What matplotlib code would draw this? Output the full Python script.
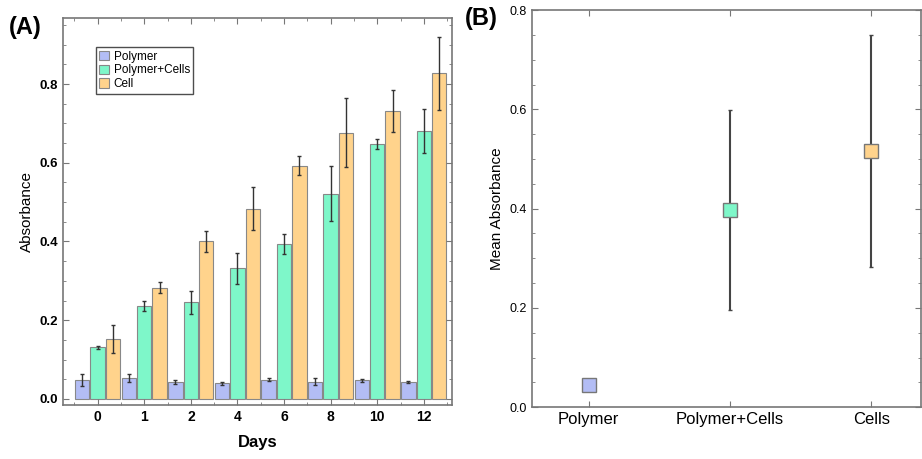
import matplotlib.pyplot as plt
import numpy as np
from matplotlib.ticker import MultipleLocator

plt.rcParams['font.family'] = ['Liberation Sans', 'DejaVu Sans']

days = ['0', '1', '2', '4', '6', '8', '10', '12']
series = ['Polymer', 'Polymer+Cells', 'Cell']
polymer = [0.048, 0.053, 0.042, 0.040, 0.049, 0.044, 0.047, 0.043]
polymer_err = [0.015, 0.010, 0.005, 0.004, 0.003, 0.008, 0.003, 0.002]
poly_cells = [0.131, 0.236, 0.245, 0.332, 0.394, 0.521, 0.648, 0.681]
poly_cells_err = [0.004, 0.013, 0.030, 0.040, 0.025, 0.070, 0.012, 0.056]
cell = [0.152, 0.283, 0.400, 0.483, 0.593, 0.676, 0.732, 0.827]
cell_err = [0.036, 0.015, 0.027, 0.055, 0.024, 0.088, 0.053, 0.092]

groups = ['Polymer', 'Polymer+Cells', 'Cells']
mean_abs = [0.045, 0.397, 0.516]
mean_err = [0.003, 0.202, 0.233]

colors = ['#b3bdf5', '#7ef7c9', '#ffd38c']
frame = '#777777'

fig = plt.figure(figsize=(9.22, 4.59), dpi=100)
axA = fig.add_axes([0.068, 0.118, 0.422, 0.843])
axB = fig.add_axes([0.577, 0.113, 0.4215, 0.865])

x = np.arange(len(days))
w = 0.31
for i, (vals, errs) in enumerate([(polymer, polymer_err), (poly_cells, poly_cells_err), (cell, cell_err)]):
    axA.bar(x + (i - 1) * 0.33, vals, w, yerr=errs, color=colors[i], edgecolor='#888888',
            linewidth=0.8, label=series[i],
            error_kw=dict(ecolor='#333333', elinewidth=1, capsize=1.5, capthick=1))

axA.set_xlim(-0.75, 7.6)
axA.set_ylim(-0.015, 0.968)
axA.set_xticks(x)
axA.set_xticklabels(days, fontsize=10, fontweight='bold')
axA.set_xticks(np.arange(-0.5, 7.6, 1), minor=True)
axA.yaxis.set_minor_locator(MultipleLocator(0.05))
axA.set_yticks([0.0, 0.2, 0.4, 0.6, 0.8])
axA.set_yticklabels(['0.0', '0.2', '0.4', '0.6', '0.8'], fontsize=9.5, fontweight='bold')
axA.set_xlabel('Days', fontsize=12, fontweight='bold', labelpad=8)
axA.set_ylabel('Absorbance', fontsize=11)
axA.legend(loc='upper left', bbox_to_anchor=(0.07, 0.94), fontsize=8.5, frameon=True,
           fancybox=False, edgecolor='#222222', handlelength=0.8, handleheight=0.8,
           handletextpad=0.4, borderpad=0.3, labelspacing=0.15)

xb = np.arange(len(groups))
for i in range(len(groups)):
    axB.errorbar(xb[i], mean_abs[i], yerr=mean_err[i], fmt='s', markersize=10,
                 markerfacecolor=colors[i], markeredgecolor='#777777', markeredgewidth=1,
                 ecolor='#444444', elinewidth=1.5, capsize=1.5, capthick=1.5)
axB.set_xlim(-0.4, 2.35)
axB.set_ylim(0, 0.8)
axB.set_xticks(xb)
axB.set_xticklabels(groups, fontsize=12)
axB.yaxis.set_minor_locator(MultipleLocator(0.05))
axB.set_yticks([0.0, 0.2, 0.4, 0.6, 0.8])
axB.set_yticklabels(['0.0', '0.2', '0.4', '0.6', '0.8'], fontsize=9)
axB.set_ylabel('Mean Absorbance', fontsize=11)

for ax in (axA, axB):
    for s in ax.spines.values():
        s.set_color(frame)
        s.set_linewidth(1.2)
    ax.tick_params(which='both', direction='in', top=True, right=True, color=frame)
    ax.tick_params(which='major', length=4)
    ax.tick_params(which='minor', length=2)

fig.text(0.01, 0.965, '(A)', fontsize=17, fontweight='bold', va='top')
fig.text(0.504, 0.985, '(B)', fontsize=17, fontweight='bold', va='top')

plt.savefig('out.png', dpi=100)
